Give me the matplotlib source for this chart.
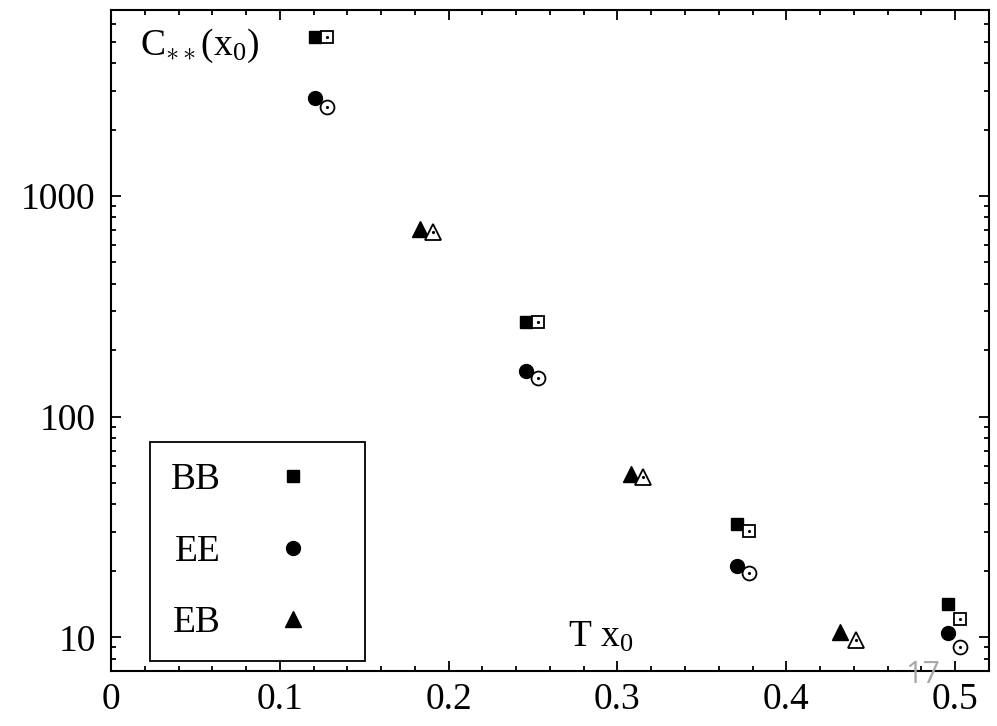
import numpy as np
import matplotlib
matplotlib.use("Agg")
import matplotlib.pyplot as plt
from matplotlib.ticker import LogLocator, MultipleLocator, FixedLocator, NullFormatter

plt.rcParams['font.family'] = 'Liberation Serif'
plt.rcParams['mathtext.fontset'] = 'custom'
plt.rcParams['mathtext.rm'] = 'Liberation Serif'
plt.rcParams['mathtext.it'] = 'Liberation Serif'

# Werte
x_bb_ee = [0.121, 0.246, 0.371, 0.496]      # gefuellte Symbole
x_bb_ee_o = [0.128, 0.253, 0.378, 0.503]    # offene Symbole
x_eb = [0.183, 0.308, 0.432]
x_eb_o = [0.191, 0.315, 0.441]

bb_fill = [5250, 268, 32.5, 14.1]
bb_open = [5250, 268, 30.3, 12.1]
ee_fill = [2770, 161, 21.0, 10.5]
ee_open = [2520, 150, 19.6, 9.0]
eb_fill = [708, 55, 10.6]
eb_open = [689, 53, 9.7]

x_ticks = [0, 0.1, 0.2, 0.3, 0.4, 0.5]
y_ticks = [10, 100, 1000]

fs = 27

fig = plt.figure(figsize=(9.97, 7.26), dpi=100)
ax = fig.add_axes([0.1113, 0.0751, 0.8806, 0.9118])

# gefuellte Symbole
ax.plot(x_bb_ee, bb_fill, 's', color='black', ms=9, ls='none', label='BB')
ax.plot(x_bb_ee, ee_fill, 'o', color='black', ms=10, ls='none', label='EE')
ax.plot(x_eb, eb_fill, '^', color='black', ms=11.5, ls='none', label='EB')

# offene Symbole mit Punkt in der Mitte
for xs, ys, m, s in [(x_bb_ee_o, bb_open, 's', 9), (x_bb_ee_o, ee_open, 'o', 10),
                     (x_eb_o, eb_open, '^', 11.5)]:
    ax.plot(xs, ys, m, mfc='white', mec='black', mew=1.3, ms=s, ls='none')
    ax.plot(xs, ys, '.', color='black', ms=2.5, ls='none')

ax.set_yscale('log')
ax.set_xlim(0, 0.52)
ax.set_ylim(7.0, 7000)

ax.xaxis.set_major_locator(FixedLocator(x_ticks))
ax.xaxis.set_minor_locator(MultipleLocator(0.02))
ax.set_xticklabels(['0', '0.1', '0.2', '0.3', '0.4', '0.5'])
ax.yaxis.set_major_locator(FixedLocator(y_ticks))
ax.yaxis.set_minor_locator(LogLocator(base=10, subs=np.arange(2, 10)))
ax.yaxis.set_minor_formatter(NullFormatter())
ax.set_yticklabels(['10', '100', '1000'])

ax.tick_params(which='both', direction='in', top=True, right=True, width=1.3)
ax.tick_params(which='major', length=7)
ax.tick_params(which='minor', length=3.5)
ax.tick_params(axis='x', which='major', labelsize=fs, pad=8)
ax.tick_params(axis='y', which='major', labelsize=fs, pad=11)
for sp in ax.spines.values():
    sp.set_linewidth(1.5)

ax.text(0.033, 0.931, r'C$_{\ast\ast}$(x$_0$)', transform=ax.transAxes,
        fontsize=fs, va='baseline')
ax.text(0.52, 0.037, r'T x$_0$', transform=ax.transAxes,
        fontsize=fs, va='baseline')

leg = ax.legend(loc='lower left', bbox_to_anchor=(0.045, 0.016), markerfirst=False,
                fontsize=fs, fancybox=False, framealpha=1, edgecolor='black',
                borderpad=0.55, labelspacing=0.99, handlelength=2.74,
                handletextpad=0.55, borderaxespad=0, numpoints=1)
leg.get_frame().set_linewidth(1.3)

fig.text(0.908, 0.059, '17', fontsize=22, color='#a8a8a8', family='Open Sans',
         va='baseline')

fig.savefig('out.png', dpi=100)
